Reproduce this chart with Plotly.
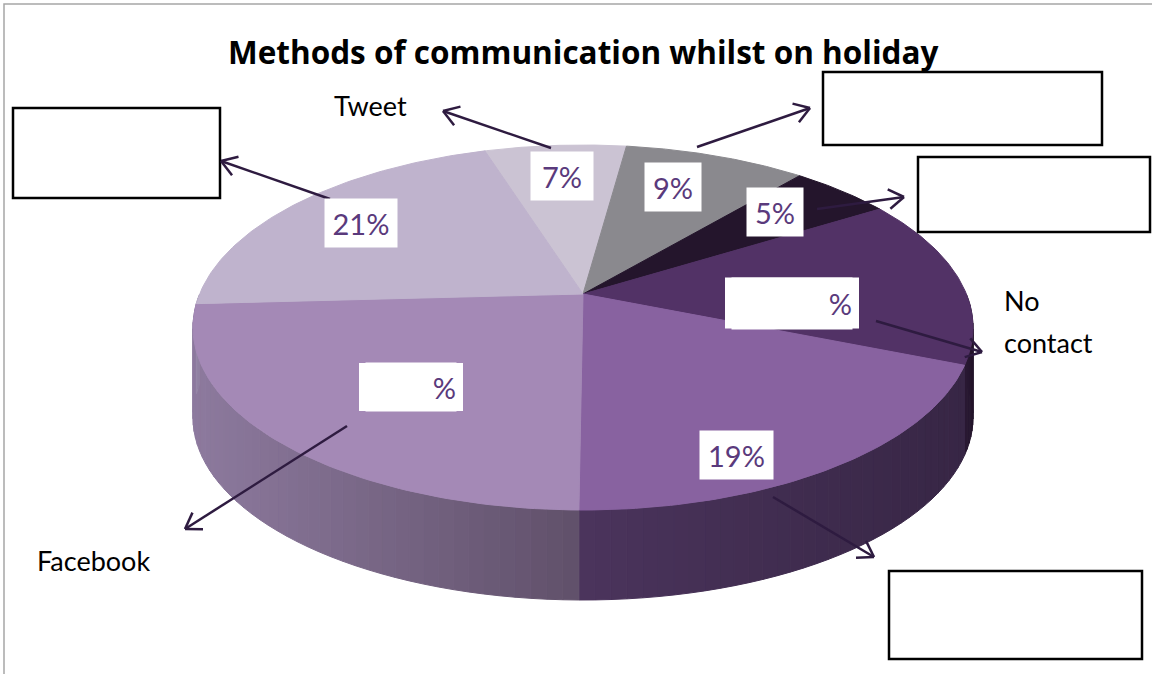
import numpy as np
import plotly.graph_objects as go

# ---------------- data ----------------
categories = ["Tweet", "", "", "No contact", "", "Facebook", ""]
values = [7, 9, 5, 15, 19, 24, 21]
value_labels = ["7%", "9%", "5%", "%", "19%", "%", "21%"]
title_text = "Methods of communication whilst on holiday"

# ---------------- style ----------------
top_colors = ["#CBC3D3", "#8A898E", "#24152C", "#523266", "#8862A0", "#A489B6", "#BFB3CD"]
side_light = ["#A59DAD", "#6E6D72", "#1C1022", "#2A1A35", "#4B345C", "#8D7A9E", "#9A8AAB"]
side_dark = ["#8F889A", "#5A595E", "#150B1A", "#221329", "#372645", "#60506A", "#8C7C9E"]
label_color = "#5A3A7C"
arrow_color = "#2E1B40"
W, H = 1152, 674

# pie geometry (pixel space)
CX, HALF_W = 583.0, 390.0
Y_BACK, Y_CENTER, Y_FRONT = 145.0, 294.0, 510.0
DEPTH = 90.0
START = -17.5  # degrees clockwise from 12 o'clock

C = (2 * Y_CENTER - Y_BACK - Y_FRONT) / (Y_FRONT - Y_BACK)
A = Y_FRONT * (C + 1) - Y_CENTER
AX = HALF_W * np.sqrt(1 - C * C)


def proj(theta_deg, r=1.0, drop=0.0):
    t = np.radians(theta_deg)
    u = r * np.sin(t)
    v = -r * np.cos(t)
    w = 1 + C * v
    return CX + AX * u / w, (A * v + Y_CENTER) / w + drop


def mix(c1, c2, f):
    a = [int(c1[i:i + 2], 16) for i in (1, 3, 5)]
    b = [int(c2[i:i + 2], 16) for i in (1, 3, 5)]
    m = [round(a[k] + (b[k] - a[k]) * f) for k in range(3)]
    return "rgb(%d,%d,%d)" % tuple(m)


vals = np.array(values, dtype=float)
cum = np.concatenate([[0], np.cumsum(vals)]) / vals.sum() * 360.0 + START
fig = go.Figure()

# ---- side walls (front half only), shaded light (left) -> dark (right) ----
for i in range(len(values)):
    a0, a1 = max(cum[i], 90.0), min(cum[i + 1], 270.0)
    if a1 <= a0:
        continue
    n = max(1, int(np.ceil((a1 - a0) / 2.0)))
    edges = np.linspace(a0, a1, n + 1)
    xr, _ = proj(np.linspace(a0, a1, 200))
    xmin, xmax = xr.min(), xr.max()
    for k in range(n):
        th = np.linspace(edges[k], edges[k + 1], 6)
        xt, yt = proj(th)
        xb, yb = proj(th[::-1], drop=DEPTH)
        xm = xt.mean()
        f = 0.5 if xmax - xmin < 1 else (xm - xmin) / (xmax - xmin)
        col = mix(side_light[i], side_dark[i], f)
        fig.add_trace(go.Scatter(
            x=np.concatenate([xt, xb, xt[:1]]), y=np.concatenate([yt, yb, yt[:1]]),
            mode="lines", fill="toself", fillcolor=col,
            line=dict(color=col, width=1), hoverinfo="skip", showlegend=False))

# ---- top face ----
for i in range(len(values)):
    th = np.linspace(cum[i], cum[i + 1], 80)
    xs, ys = proj(th)
    x0, y0 = proj(0.0, r=0.0)
    fig.add_trace(go.Scatter(
        x=np.concatenate([[x0], xs, [x0]]), y=np.concatenate([[y0], ys, [y0]]),
        mode="lines", fill="toself", fillcolor=top_colors[i],
        line=dict(color=top_colors[i], width=1), hoverinfo="skip",
        name=categories[i] or value_labels[i], showlegend=False))

shapes = []
annotations = []

# outer frame
shapes.append(dict(type="rect", xref="x", yref="y", x0=4, y0=4, x1=W + 10, y1=H + 10,
                   line=dict(color="#A6A6A6", width=1.5), layer="below"))

# blank answer boxes
for (bx0, by0, bx1, by1) in [(13, 108, 220, 198), (823, 72, 1102, 145),
                             (918, 157, 1150, 232), (889, 571, 1142, 659)]:
    shapes.append(dict(type="rect", xref="x", yref="y", x0=bx0, y0=by0, x1=bx1, y1=by1,
                       line=dict(color="black", width=2.5), fillcolor="white", layer="above"))

# arrows (tail -> tip), open heads
arrows = [((551, 148), (443, 111)), ((330, 199), (221, 161)), ((697, 147), (810, 108)),
          ((817, 209), (904, 197)), ((876, 321), (982, 352)), ((347, 426), (185, 529)),
          ((773, 497), (874, 557))]
for (tx, ty), (hx, hy) in arrows:
    shapes.append(dict(type="line", xref="x", yref="y", x0=tx, y0=ty, x1=hx, y1=hy,
                       line=dict(color=arrow_color, width=2.5), layer="above"))
    ang = np.arctan2(ty - hy, tx - hx)
    for s in (-1, 1):
        a2 = ang + s * np.radians(33)
        shapes.append(dict(type="line", xref="x", yref="y", x0=hx, y0=hy,
                           x1=hx + 18 * np.cos(a2), y1=hy + 18 * np.sin(a2),
                           line=dict(color=arrow_color, width=2.5), layer="above"))

# value label boxes: (center x, center y, width, height, align)
label_boxes = [(562, 176, 62, 48, "center"), (673, 187, 56, 48, "center"),
               (775, 212, 56, 48, "center"), (792, 303, 134, 51, "right"),
               (736, 455, 73, 48, "center"), (411, 387, 104, 48, "right"),
               (361, 223, 72, 48, "center")]
for txt, (lx, ly, lw, lh, al) in zip(value_labels, label_boxes):
    annotations.append(dict(x=lx, y=ly, xref="x", yref="y", text=txt, showarrow=False,
                            width=lw - 14 if al == "right" else lw, height=lh,
                            bgcolor="white", borderpad=0,
                            align=al, valign="middle",
                            xanchor="center", yanchor="middle",
                            font=dict(family="Lato", size=29, color=label_color)))
for txt, (lx, ly, lw, lh, al) in zip(value_labels, label_boxes):
    if al == "right":
        shapes.append(dict(type="rect", xref="x", yref="y", x0=lx - lw / 2, x1=lx + lw / 2,
                           y0=ly - lh / 2, y1=ly + lh / 2, fillcolor="white",
                           line=dict(width=0), layer="above"))

# category labels
cat_font = dict(family="Lato", size=27, color="black")
annotations.append(dict(x=370, y=105, xref="x", yref="y", text=categories[0], showarrow=False,
                        xanchor="center", yanchor="middle", font=cat_font))
nc_words = categories[3].split()
annotations.append(dict(x=1002, y=300, xref="x", yref="y", text=nc_words[0], showarrow=False,
                        xanchor="left", yanchor="middle", font=cat_font))
annotations.append(dict(x=1002, y=342, xref="x", yref="y", text=nc_words[1], showarrow=False,
                        xanchor="left", yanchor="middle", font=cat_font))
annotations.append(dict(x=35, y=560, xref="x", yref="y", text=categories[5], showarrow=False,
                        xanchor="left", yanchor="middle", font=cat_font))

# title
annotations.append(dict(x=583, y=51, xref="x", yref="y", text="<b>" + title_text + "</b>",
                        showarrow=False, xanchor="center", yanchor="middle",
                        font=dict(family="Open Sans", size=31.5, color="black")))

fig.update_layout(
    width=W, height=H, autosize=False,
    margin=dict(l=0, r=0, t=0, b=0),
    paper_bgcolor="white", plot_bgcolor="white",
    xaxis=dict(range=[0, W], visible=False, fixedrange=True),
    yaxis=dict(range=[H, 0], visible=False, fixedrange=True),
    shapes=shapes, annotations=annotations,
)

fig.write_html("out.html")
